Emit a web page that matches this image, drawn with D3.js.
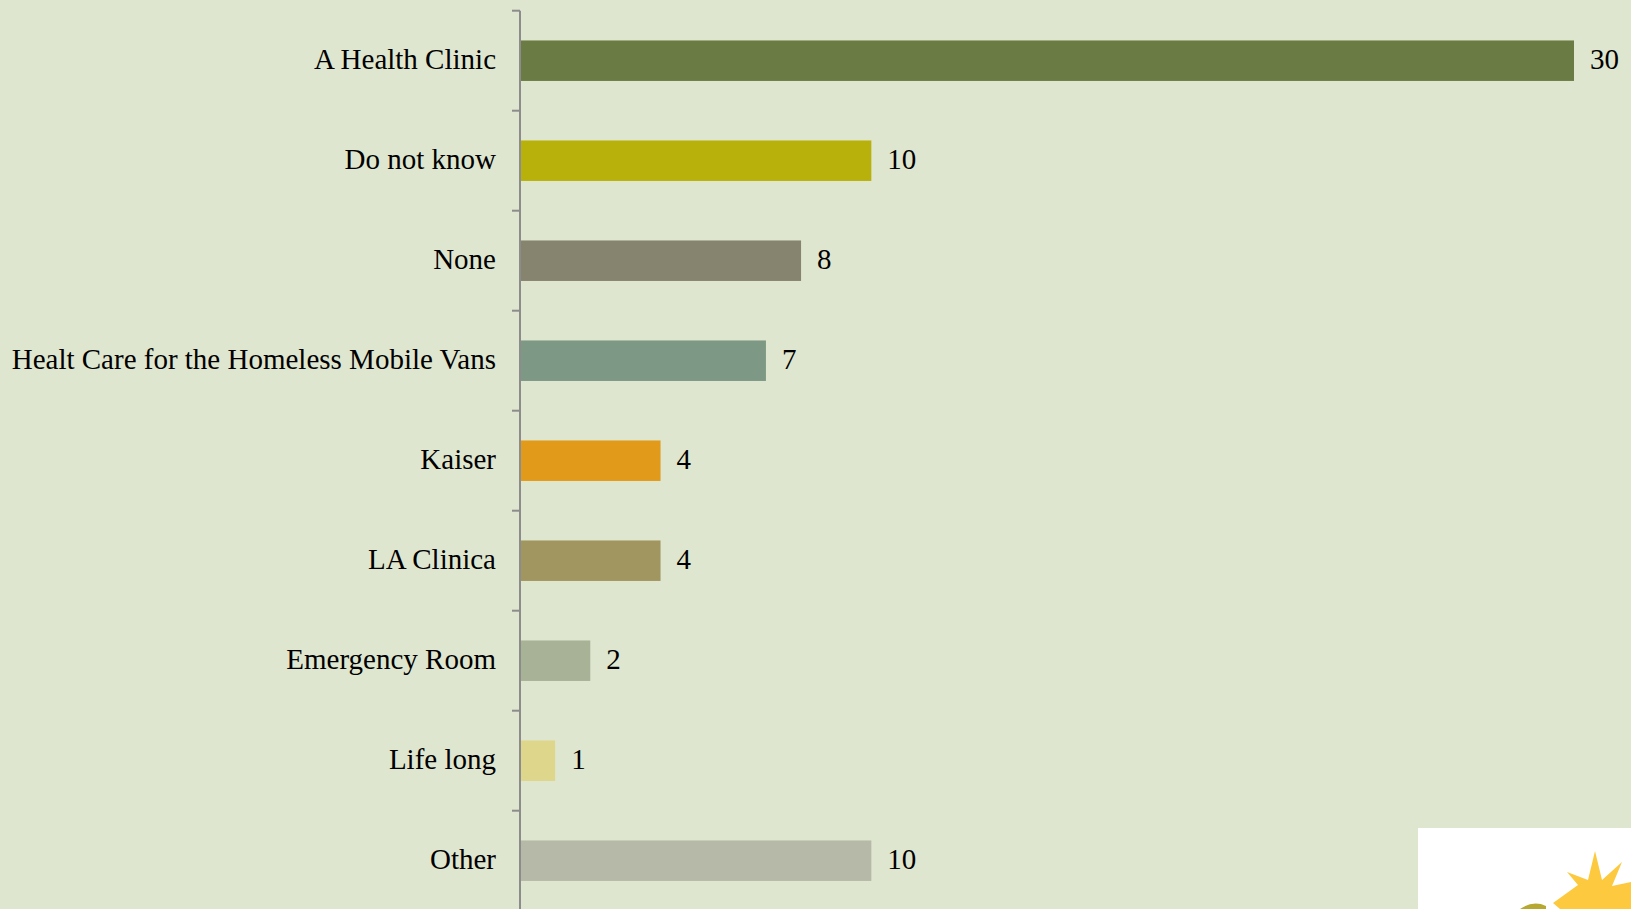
<!DOCTYPE html>
<html>
<head>
<meta charset="utf-8">
<script src="https://cdn.jsdelivr.net/npm/d3@7"></script>
<style>
  html, body { margin: 0; padding: 0; background: #dfe6cf; overflow: hidden; }
  svg { display: block; }
  text { font-family: "Liberation Serif", serif; }
</style>
</head>
<body>
<svg id="chart"></svg>
<script>
    // Data
    const categories = ["A Health Clinic", "Do not know", "None", "Healt Care for the Homeless Mobile Vans",
                        "Kaiser", "LA Clinica", "Emergency Room", "Life long", "Other"];
    const counts = [30, 10, 8, 7, 4, 4, 2, 1, 10];
    const colors = ["#6a7c43", "#b8b10c", "#86846e", "#7d9885", "#e29a1b",
                    "#a29660", "#a8b297", "#ded68a", "#b6b8a8"];

    const W = 1631, H = 909;
    const margin = { top: 10.7, left: 520 };
    const step = 100;

    const svg = d3.select("#chart")
      .attr("width", W)
      .attr("height", H);

    svg.append("rect")
      .attr("width", W).attr("height", H)
      .attr("fill", "#dfe6cf");

    // scales
    const y = d3.scaleBand()
      .domain(categories)
      .range([margin.top, margin.top + step * categories.length])
      .paddingInner(0.595)
      .paddingOuter(0.2975);

    const x = d3.scaleLinear()
      .domain([0, 30])
      .range([margin.left, margin.left + 1054]);

    // bars
    svg.selectAll("rect.bar")
      .data(categories)
      .join("rect")
      .attr("class", "bar")
      .attr("x", x(0))
      .attr("y", d => y(d))
      .attr("width", (d, i) => x(counts[i]) - x(0))
      .attr("height", y.bandwidth())
      .attr("fill", (d, i) => colors[i]);

    // value labels
    svg.selectAll("text.val")
      .data(categories)
      .join("text")
      .attr("class", "val")
      .attr("x", (d, i) => x(counts[i]) + 16)
      .attr("y", d => y(d) + y.bandwidth() / 2)
      .attr("dy", "0.3em")
      .attr("font-size", 29)
      .attr("fill", "#000")
      .text((d, i) => counts[i]);

    // category axis with ticks on band boundaries
    const axisG = svg.append("g");
    axisG.append("line")
      .attr("x1", margin.left).attr("x2", margin.left)
      .attr("y1", margin.top).attr("y2", H + 5)
      .attr("stroke", "#8c8c8c").attr("stroke-width", 2);

    const bounds = d3.range(categories.length + 1).map(i => margin.top + i * step);
    axisG.selectAll("line.tick")
      .data(bounds)
      .join("line")
      .attr("class", "tick")
      .attr("x1", margin.left - 8).attr("x2", margin.left)
      .attr("y1", d => d).attr("y2", d => d)
      .attr("stroke", "#8c8c8c").attr("stroke-width", 2);

    axisG.selectAll("text.cat")
      .data(categories)
      .join("text")
      .attr("class", "cat")
      .attr("x", margin.left - 24)
      .attr("y", d => y(d) + y.bandwidth() / 2)
      .attr("dy", "0.3em")
      .attr("text-anchor", "end")
      .attr("font-size", 29)
      .attr("fill", "#000")
      .text(d => d);

    // logo corner
    svg.append("rect")
      .attr("x", 1418).attr("y", 828)
      .attr("width", W - 1418).attr("height", H - 828)
      .attr("fill", "#ffffff");

    svg.append("path")
      .attr("d", "M1553,903 L1578,885 L1567,872 L1588,880 L1595,851 L1602,880 L1622,862 L1612,886 L1640,880 L1640,909 L1560,909 Z")
      .attr("fill", "#fdc93e");
    svg.append("path")
      .attr("d", "M1520,909 Q1533,900 1546,906 L1546,909 Z")
      .attr("fill", "#b7a832");
</script>
</body>
</html>
